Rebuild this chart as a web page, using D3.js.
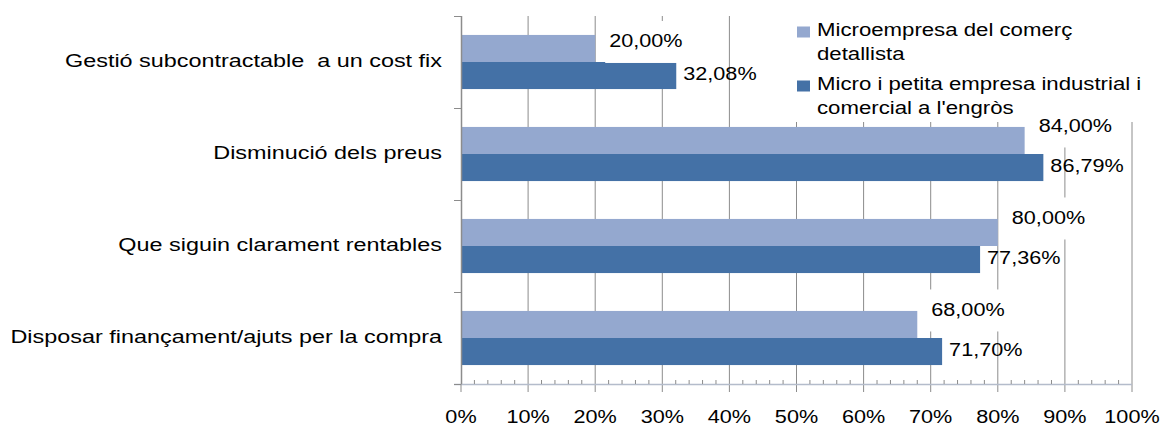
<!DOCTYPE html>
<html>
<head>
<meta charset="utf-8">
<script src="https://cdn.jsdelivr.net/npm/d3@7"></script>
<style>
  html, body { margin: 0; padding: 0; background: #fff; }
  svg { display: block; }
  text { font-family: "Liberation Sans", Arial, sans-serif; fill: #000; }
</style>
</head>
<body>
<svg id="chart" width="1163" height="426"></svg>
<script>
// ---- data ----
const categories = [
  "Gestió subcontractable  a un cost fix",
  "Disminució dels preus",
  "Que siguin clarament rentables",
  "Disposar finançament/ajuts per la compra"
];
const seriesNames = [
  "Microempresa del comerç detallista",
  "Micro i petita empresa industrial i comercial a l'engròs"
];
const legendLines = [
  ["Microempresa del comerç", "detallista"],
  ["Micro i petita empresa industrial i", "comercial a l'engròs"]
];
const retailValues = [20.00, 84.00, 80.00, 68.00];
const industrialValues = [32.08, 86.79, 77.36, 71.70];
const xTickValues = [0, 10, 20, 30, 40, 50, 60, 70, 80, 90, 100];
const xMinorTickValues = d3.range(0, 101, 2);

// ---- layout / style ----
const colors = ["#94A8CF", "#4471A6"];
const FS = 18.5;
const SX_NUM = 1.17, SX_CAT = 1.265, SX_LEG = 1.2;
const fmt = v => d3.format(".2f")(v).replace(".", ",") + "%";
const svg = d3.select("#chart");

const x = d3.scaleLinear().domain([0, 100]).range([461, 1132]);
const y0 = d3.scaleBand().domain(categories).range([16, 384]);
const y1 = d3.scaleBand().domain([0, 1]).range([0, y0.bandwidth()]).paddingOuter(0.7);

function txt(g, s, tx, ty, anchor, sx) {
  return g.append("text")
    .attr("transform", `translate(${tx},${ty}) scale(${sx},1)`)
    .attr("text-anchor", anchor || "start")
    .style("font-size", FS + "px")
    .style("white-space", "pre")
    .text(s);
}

// gridlines (extend below axis as major ticks)
svg.append("g").selectAll("line").data(xTickValues.slice(1)).join("line")
  .attr("x1", d => x(d)).attr("x2", d => x(d))
  .attr("y1", 16).attr("y2", 392)
  .attr("stroke", "#8c8c8c").attr("stroke-width", 1);

// bars
const series = [retailValues, industrialValues];
series.forEach((vals, si) => {
  svg.append("g").selectAll("rect").data(categories).join("rect")
    .attr("x", x(0))
    .attr("y", (c) => y0(c) + y1(si))
    .attr("width", (c, i) => x(vals[i]) - x(0))
    .attr("height", y1.bandwidth())
    .attr("fill", colors[si]);
});

// bottom axis
const ax = svg.append("g");
ax.append("line").attr("x1", 454).attr("x2", x(100)).attr("y1", 384.5).attr("y2", 384.5)
  .attr("stroke", "#b4bccb").attr("stroke-width", 1.5);
ax.selectAll("line.minor").data(xMinorTickValues.filter(d => d % 10 !== 0)).join("line")
  .attr("class", "minor")
  .attr("x1", d => x(d)).attr("x2", d => x(d)).attr("y1", 380).attr("y2", 384)
  .attr("stroke", "#8c8c8c");
ax.append("line").attr("x1", x(0)).attr("x2", x(0)).attr("y1", 384).attr("y2", 392)
  .attr("stroke", "#8c8c8c");
xTickValues.forEach(d => txt(ax, d + "%", x(d), 423, "middle", SX_NUM));

// left axis
const ay = svg.append("g");
ay.append("line").attr("x1", 461.5).attr("x2", 461.5).attr("y1", 16).attr("y2", 384)
  .attr("stroke", "#8c8c8c").attr("stroke-width", 1.5);
const boundaries = categories.map(c => y0(c)).concat([y0.range()[1]]);
ay.selectAll("line.t").data(boundaries).join("line")
  .attr("class", "t")
  .attr("x1", 454).attr("x2", 461).attr("y1", d => d + 0.5).attr("y2", d => d + 0.5)
  .attr("stroke", "#8c8c8c");
categories.forEach(c => txt(ay, c, 442, y0(c) + y0.bandwidth() / 2 + 4.5, "end", SX_CAT));

// legend
const lg = svg.append("g");
lg.append("rect").attr("x", 790).attr("y", 15).attr("width", 372).attr("height", 107).attr("fill", "#fff");
legendLines.forEach((lines, i) => {
  const base = 36 + i * 54;
  lg.append("rect").attr("x", 797).attr("y", base - 9.5).attr("width", 13).attr("height", 11)
    .attr("fill", colors[i]);
  lines.forEach((l, j) => txt(lg, l, 817, base + j * 24, "start", SX_LEG));
});

// value labels
const lightDy = [-7.5, -15, -15, -15];
const lab = svg.append("g");
categories.forEach((c, i) => {
  // light series label with white box
  const cy = y0(c) + y1(0) + y1.bandwidth() / 2 + lightDy[i];
  const tx = x(retailValues[i]) + 14;
  const bg = lab.append("rect").attr("fill", "#fff");
  const t = txt(lab, fmt(retailValues[i]), tx, cy + 6.5, "start", SX_NUM);
  const w = t.node().getBBox().width * SX_NUM;
  bg.attr("x", tx - 4).attr("y", cy - 20).attr("width", w + 8).attr("height", 42);
  // dark series label (no box)
  const cy2 = y0(c) + y1(1) + y1.bandwidth() / 2 - 2.5;
  txt(lab, fmt(industrialValues[i]), x(industrialValues[i]) + 7, cy2 + 6.5, "start", SX_NUM);
});
</script>
</body>
</html>
